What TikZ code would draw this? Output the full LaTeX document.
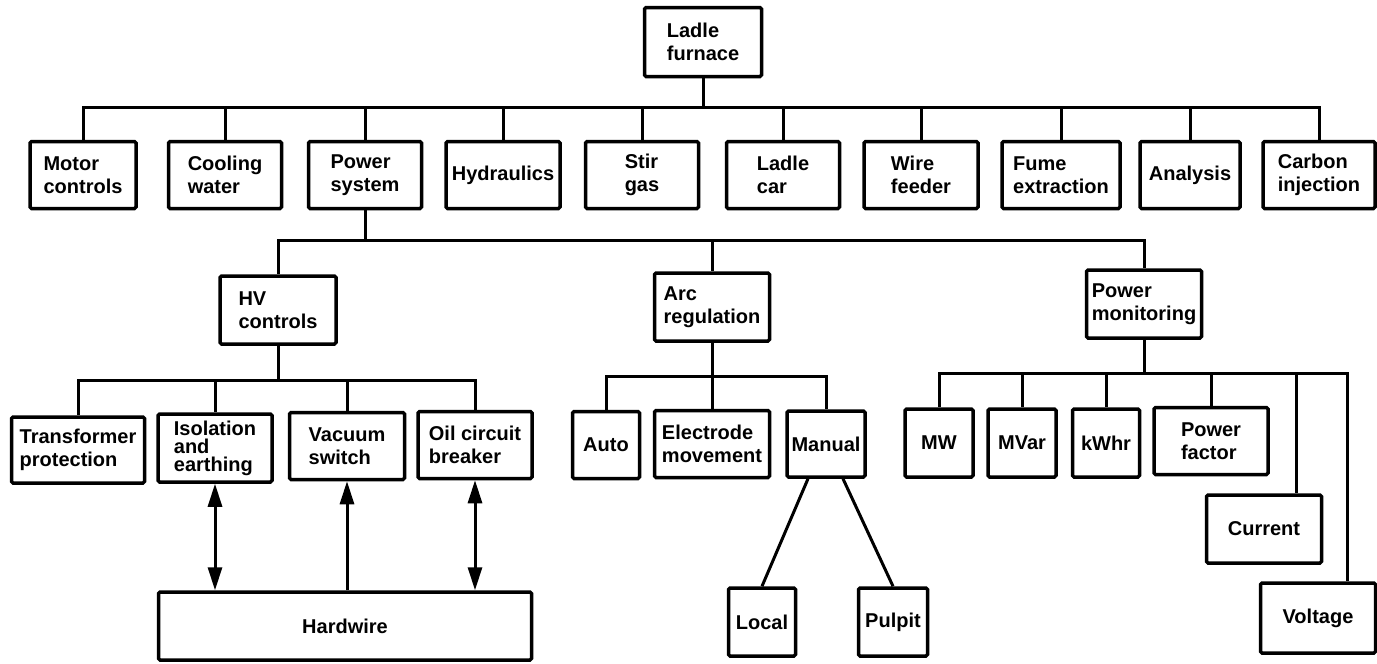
\documentclass[tikz,border=0pt]{standalone}
\usepackage{fontspec}
\setmainfont{Liberation Sans}
\usetikzlibrary{arrows.meta,calc}
\begin{document}
\begin{tikzpicture}[x=1pt,y=-1pt,
  box/.style={draw, line width=3.5pt, rounded corners=1.5pt, align=left,
    inner sep=0pt, minimum height=67pt,
    font=\bfseries\fontsize{20}{23}\selectfont},
  wire/.style={line width=3pt},
  tip/.tip={Triangle[length=23pt,width=14pt]},
  head/.style={line width=3pt, -tip},
  bihead/.style={line width=3pt, tip-tip}]
\useasboundingbox (0,0) rectangle (1377,664);

% root
\node[box, minimum width=117pt, minimum height=69pt] (lf) at (703,42) {Ladle\\furnace};

% first level
\node[box, minimum width=106pt] (mc) at (83,175)   {Motor\\controls};
\node[box, minimum width=113pt] (cw) at (225,175)  {Cooling\\water};
\node[box, minimum width=113pt] (ps) at (365,175)  {Power\\system};
\node[box, minimum width=114pt] (hy) at (503,175)  {Hydraulics};
\node[box, minimum width=113pt] (sg) at (642,175)  {Stir\\gas};
\node[box, minimum width=113pt] (lc) at (783,175)  {Ladle\\car};
\node[box, minimum width=114pt] (wf) at (921,175)  {Wire\\feeder};
\node[box, minimum width=118pt] (fe) at (1061,175) {Fume\\extraction};
\node[box, minimum width=100pt] (an) at (1190,175) {Analysis};
\node[box, minimum width=112pt] (ci) at (1319,175) {Carbon\\injection};

% power system
\node[box, minimum width=116pt, minimum height=68pt] (hv) at (278,310)  {HV\\controls};
\node[box, minimum width=115pt, minimum height=68pt] (ar) at (712,307)  {Arc\\regulation};
\node[box, minimum width=115pt, minimum height=68pt] (pm) at (1144,304) {Power\\monitoring};

% HV controls
\node[box, minimum width=133pt, minimum height=66pt] (tp) at (78,450)  {Transformer\\protection};
\node[box, minimum width=114pt, minimum height=68pt,
  font=\bfseries\fontsize{20}{18}\selectfont] (ie) at (215,448) {Isolation\\and\\earthing};
\node[box, minimum width=115pt] (vs) at (347,446) {Vacuum\\switch};
\node[box, minimum width=114pt] (oc) at (475,445) {Oil circuit\\breaker};
\node[box, minimum width=373pt, minimum height=68pt, align=center] (hw) at (345,626) {Hardwire};

% arc regulation
\node[box, minimum width=67pt]  (au) at (606,445) {Auto};
\node[box, minimum width=115pt] (em) at (712,444) {Electrode\\movement};
\node[box, minimum width=78pt, minimum height=66pt] (mn) at (826,444) {Manual};
\node[box, minimum width=67pt, minimum height=68pt] (lo) at (762,622) {Local};
\node[box, minimum width=69pt, minimum height=68pt] (pu) at (893,622) {Pulpit};

% power monitoring
\node[box, minimum width=68pt, minimum height=68pt] (mw) at (939,443)  {MW};
\node[box, minimum width=68pt, minimum height=68pt] (mv) at (1022,443) {MVar};
\node[box, minimum width=67pt, minimum height=68pt] (kw) at (1106,443) {kWhr};
\node[box, minimum width=114pt] (pf) at (1211,441) {Power\\factor};
\node[box, minimum width=115pt, minimum height=68pt] (cu) at (1264,529) {Current};
\node[box, minimum width=115pt, minimum height=70pt] (vo) at (1318,618) {Voltage};

% bus levels
\coordinate (b1) at (lf.south |- 0,107);
\coordinate (b2) at (ps.south |- 0,240);
\coordinate (b3) at (hv.south |- 0,380);
\coordinate (b4) at (ar.south |- 0,376);
\coordinate (b5) at (pm.south |- 0,373);
\coordinate (cuin) at ($(cu.north east)+(-27,0)$);
\coordinate (voin) at ($(vo.north east)+(-30,0)$);

% tree connectors
\foreach \c in {mc,cw,ps,hy,sg,lc,wf,fe,an,ci}
  \draw[wire] (lf.south) -- (b1) -| (\c.north);
\foreach \c in {hv,ar,pm}
  \draw[wire] (ps.south) -- (b2) -| (\c.north);
\foreach \c in {tp,ie,vs,oc}
  \draw[wire] (hv.south) -- (b3) -| (\c.north);
\foreach \c in {au,em,mn}
  \draw[wire] (ar.south) -- (b4) -| (\c.north);
\foreach \c in {mw,mv,kw,pf}
  \draw[wire] (pm.south) -- (b5) -| (\c.north);
\draw[wire] (pm.south) -- (b5) -| (cuin);
\draw[wire] (pm.south) -- (b5) -| (voin);

% manual stations
\draw[wire] ($(mn.south)+(-18,0)$) -- (lo.north);
\draw[wire] ($(mn.south)+(17,0)$) -- (pu.north);

% hardwire links
\draw[bihead] (ie.south) -- (ie.south |- hw.north);
\draw[head] (vs.south |- hw.north) -- (vs.south);
\draw[bihead] (oc.south) -- (oc.south |- hw.north);
\end{tikzpicture}
\end{document}
